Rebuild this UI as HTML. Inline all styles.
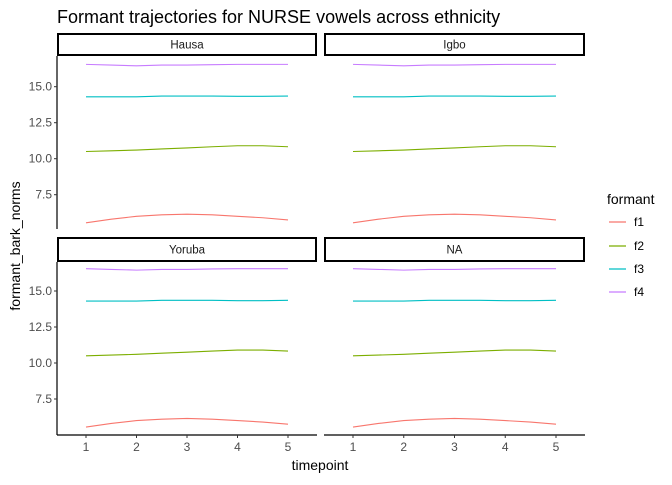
<!DOCTYPE html>
<html><head><meta charset="utf-8"><style>
body{margin:0;background:#fff;}
svg text{font-family:"Liberation Sans",Arial,sans-serif;}
</style></head><body>
<svg id="c" width="672" height="480" xmlns="http://www.w3.org/2000/svg">
<text x="57" y="23" font-size="18" fill="#000">Formant trajectories for NURSE vowels across ethnicity</text>
<text transform="translate(20,246) rotate(-90)" text-anchor="middle" font-size="14" fill="#000">formant_bark_norms</text>
<text x="320" y="470" text-anchor="middle" font-size="14" fill="#000">timepoint</text>
<g id="legend">
<text x="607" y="204" font-size="14" fill="#000">formant</text>
</g>
<g id="plots"></g>
</svg>
<script>
const panels=["Hausa","Igbo","Yoruba","NA"];
const formants=["f1","f2","f3","f4"];
const colors=["#F8766D","#7CAE00","#00BFC4","#C77CFF"];
const timepoints=[1,1.5,2,2.5,3,3.5,4,4.5,5];
const f1=[5.55,5.8,6.0,6.1,6.15,6.1,6.0,5.9,5.75];
const f2=[10.5,10.55,10.6,10.68,10.75,10.83,10.9,10.9,10.83];
const f3=[14.3,14.3,14.3,14.35,14.35,14.35,14.33,14.33,14.35];
const f4=[16.55,16.5,16.45,16.5,16.5,16.53,16.55,16.55,16.55];
const series=[f1,f2,f3,f4];
const yTicks=[7.5,10.0,12.5,15.0];
const xTicks=[1,2,3,4,5];
const NS="http://www.w3.org/2000/svg";
const svg=document.getElementById('plots');
function mk(t,a,p){const e=document.createElementNS(NS,t);for(const k in a)e.setAttribute(k,a[k]);(p||svg).appendChild(e);return e;}
const lay=[{x0:57,x1:317,st:33,pt:56,pb:229},{x0:324,x1:585,st:33,pt:56,pb:229},{x0:57,x1:317,st:237,pt:262,pb:435},{x0:324,x1:585,st:237,pt:262,pb:435}];
lay.forEach((L,i)=>{
  const g=mk('g',{});
  
  
  const xs=t=>L.x0+29+(t-1)*(L.x1-L.x0-58)/4;
  const y15=L.pt+ (i<2?30.7:29), y75=y15+108;
  const ys=v=>y15+(15-v)*(y75-y15)/7.5;
  const strip=mk('rect',{x:L.x0+1,y:L.st+1,width:L.x1-L.x0-2,height:L.pt-L.st-2,fill:'#fff',stroke:'#000','stroke-width':2},g);
  
  
  const st=mk('text',{x:(L.x0+L.x1)/2,y:(L.st+L.pt)/2+4,'text-anchor':'middle','font-size':11.5,fill:'#1a1a1a'},g);
  st.textContent=panels[i];
  
  
  if(i%2==0){
    mk('line',{x1:L.x0,x2:L.x0,y1:L.pt,y2:L.pb,stroke:'#000','stroke-width':1.2},g);
    yTicks.forEach(v=>{
      mk('line',{x1:L.x0-3,x2:L.x0,y1:ys(v),y2:ys(v),stroke:'#333'},g);
      const t=mk('text',{x:L.x0-5,y:ys(v)+4,'text-anchor':'end','font-size':12,fill:'#4d4d4d'},g);
      t.textContent=v.toFixed(1);
      
      
    });
  }
  if(i>=2){
    mk('line',{x1:L.x0,x2:L.x1,y1:L.pb,y2:L.pb,stroke:'#000','stroke-width':1.2},g);
    xTicks.forEach(v=>{
      mk('line',{x1:xs(v),x2:xs(v),y1:L.pb,y2:L.pb+3,stroke:'#333'},g);
      const t=mk('text',{x:xs(v),y:L.pb+16,'text-anchor':'middle','font-size':12,fill:'#4d4d4d'},g);
      t.textContent=v;
      
      
    });
  }
  series.forEach((s,k)=>{
    const p=mk('polyline',{points:s.map((v,j)=>xs(timepoints[j])+','+ys(v)).join(' '),fill:'none',stroke:colors[k],'stroke-width':1.1},g);
    
    
  });
});
const lg=document.getElementById('legend');
const ly=[222,246,269,292];
formants.forEach((f,k)=>{
  const l=mk('line',{x1:609,x2:626,y1:ly[k],y2:ly[k],stroke:colors[k],'stroke-width':1.2},lg);
  
  
  const t=mk('text',{x:634,y:ly[k]+4,'font-size':12,fill:'#000'},lg);
  t.textContent=f;
  
  
});
</script>
</body></html>
